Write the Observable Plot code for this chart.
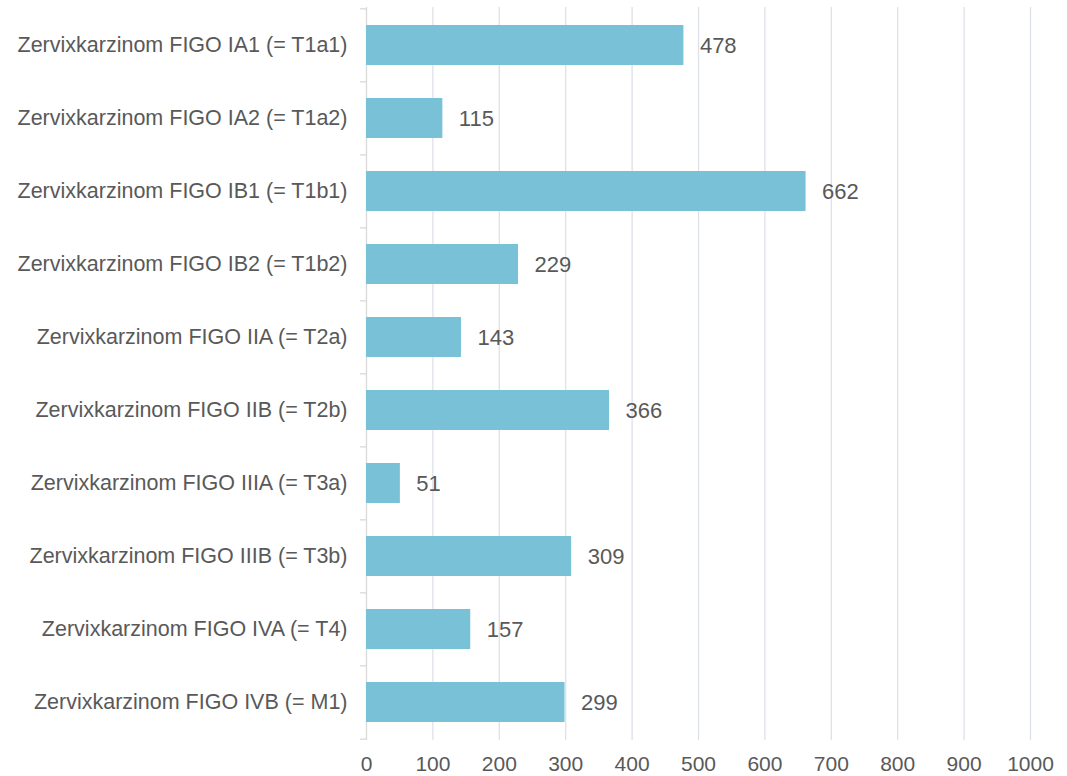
<!DOCTYPE html>
<html>
<head>
<meta charset="utf-8">
<script src="https://cdn.jsdelivr.net/npm/d3@7"></script>
<script src="https://cdn.jsdelivr.net/npm/@observablehq/plot@0.6"></script>
<style>
  html, body { margin: 0; padding: 0; background: #ffffff; }
  #chart { width: 1067px; height: 776px; }
</style>
</head>
<body>
<div id="chart"></div>
<script>
const categories = [
  "Zervixkarzinom FIGO IA1 (= T1a1)",
  "Zervixkarzinom FIGO IA2 (= T1a2)",
  "Zervixkarzinom FIGO IB1 (= T1b1)",
  "Zervixkarzinom FIGO IB2 (= T1b2)",
  "Zervixkarzinom FIGO IIA (= T2a)",
  "Zervixkarzinom FIGO IIB (= T2b)",
  "Zervixkarzinom FIGO IIIA (= T3a)",
  "Zervixkarzinom FIGO IIIB (= T3b)",
  "Zervixkarzinom FIGO IVA (= T4)",
  "Zervixkarzinom FIGO IVB (= M1)"
];
const values = [478, 115, 662, 229, 143, 366, 51, 309, 157, 299];
const xTicks = [0, 100, 200, 300, 400, 500, 600, 700, 800, 900, 1000];

const data = categories.map((c, i) => ({category: c, value: values[i]}));

const height = 776, marginTop = 7, marginBottom = 36;
const step = (height - marginTop - marginBottom) / categories.length;
const textColor = "#595959";
const axisColor = "#d9d9d9";
const gridColor = "#dde1e9";

const chart = Plot.plot({
  width: 1067,
  height,
  marginTop,
  marginBottom,
  marginLeft: 366,
  marginRight: 37,
  style: {fontFamily: "'Liberation Sans', Arial, sans-serif", color: textColor, background: "#ffffff"},
  x: {domain: [0, 1000], ticks: xTicks},
  y: {domain: categories, paddingInner: 0.455, paddingOuter: 0.2275, align: 0.5},
  marks: [
    Plot.gridX(xTicks.slice(1), {stroke: gridColor, strokeOpacity: 1, strokeWidth: 1.3}),
    Plot.ruleX([0], {stroke: axisColor, strokeWidth: 1.3}),
    Plot.ruleY(categories, {y: d => d, x1: 0, x2: 0, insetLeft: -6, dy: -step / 2, stroke: axisColor, strokeWidth: 1.3}),
    Plot.ruleY([categories[categories.length - 1]], {y: d => d, x1: 0, x2: 0, insetLeft: -6, dy: step / 2, stroke: axisColor, strokeWidth: 1.3}),
    Plot.barX(data, {x: "value", y: "category", fill: "#79c1d6"}),
    Plot.text(data, {x: "value", y: "category", text: d => String(d.value), textAnchor: "start", dx: 16, fontSize: 22, fill: textColor}),
    Plot.axisX({ticks: xTicks, tickSize: 0, tickPadding: 16, fontSize: 21, label: null, tickFormat: d => String(d)}),
    Plot.axisY({tickSize: 0, tickPadding: 19, fontSize: 21.5, label: null})
  ]
});
document.getElementById("chart").appendChild(chart);
</script>
</body>
</html>
